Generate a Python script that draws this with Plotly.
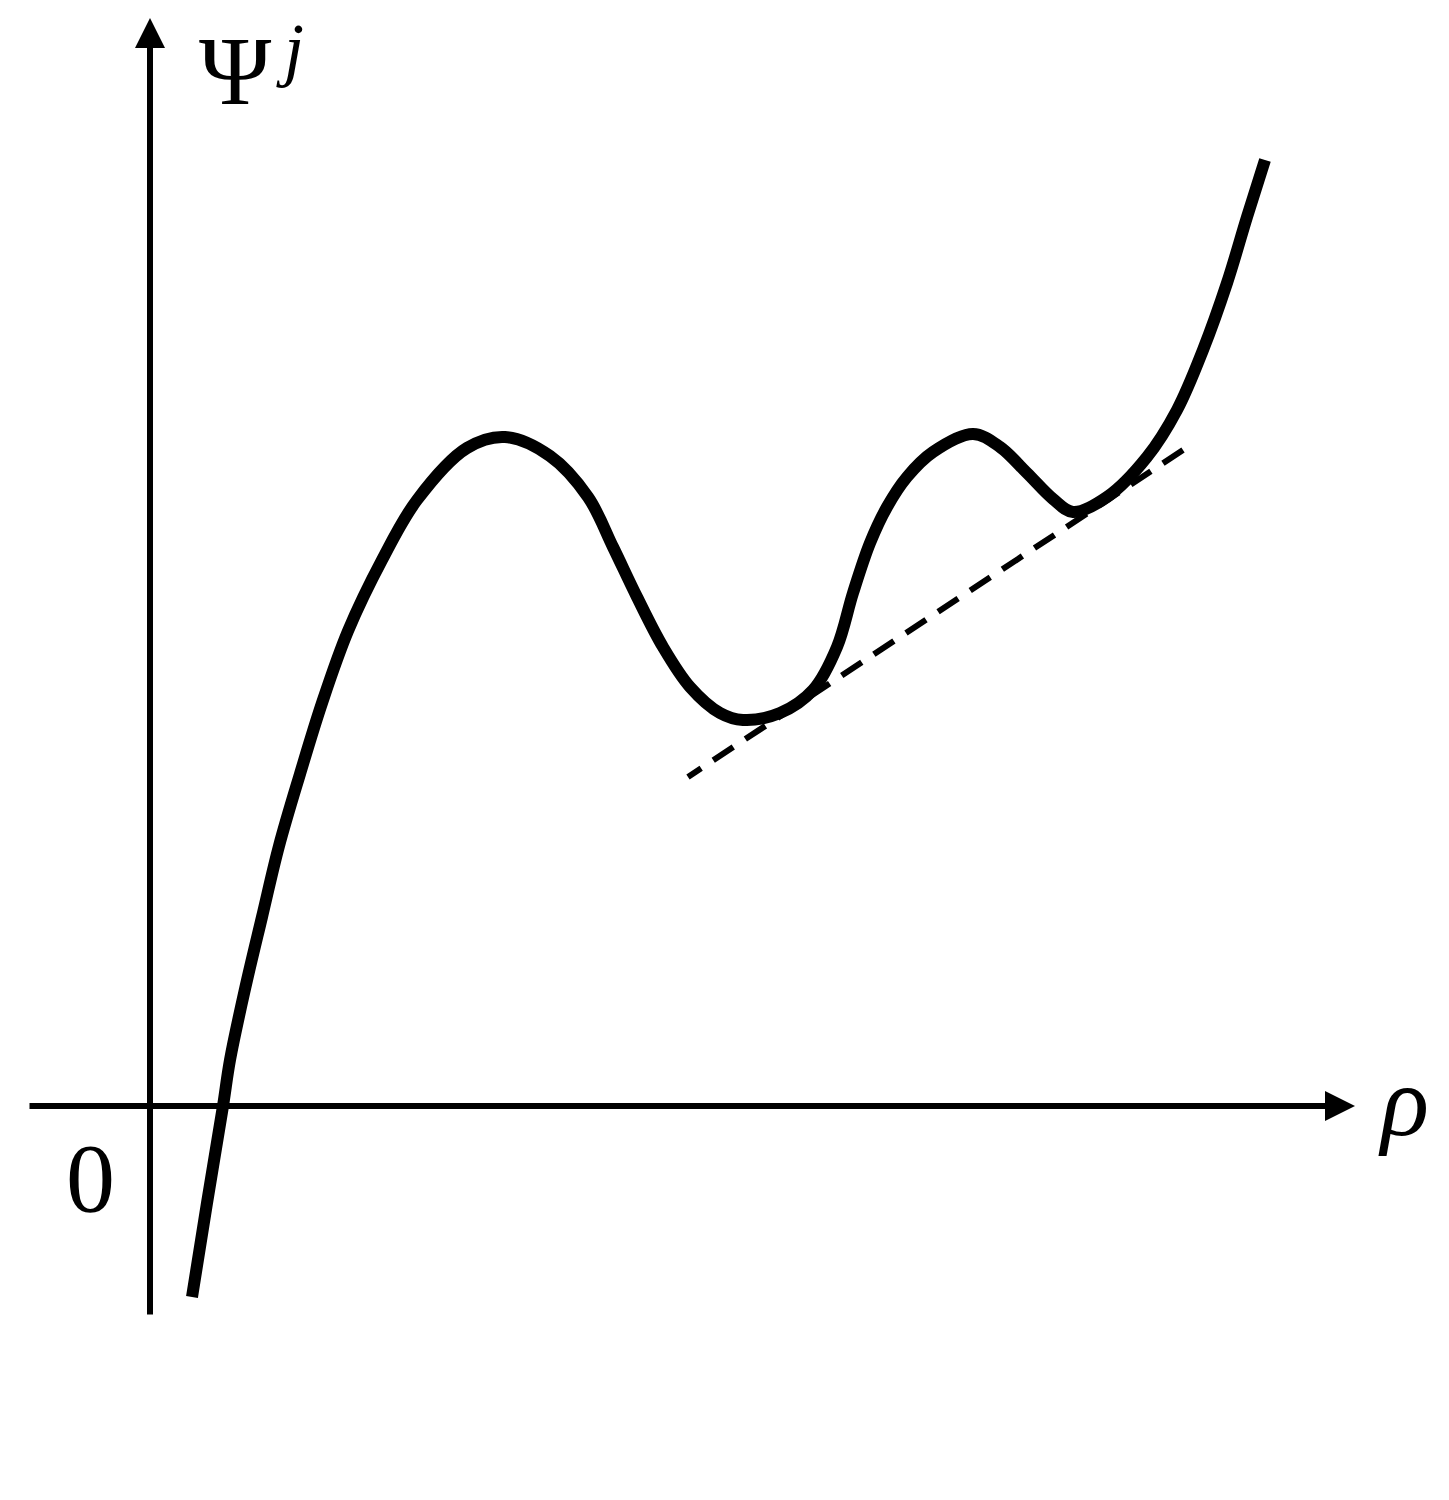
import plotly.graph_objects as go

# Curve Psi^j(rho) (arbitrary units)
rho = [0.42, 0.57, 0.73, 0.80, 0.95, 1.12, 1.29, 1.50, 1.72, 1.98, 2.32, 2.67,
       3.17, 3.55, 4.00, 4.38, 4.63, 4.87, 5.13, 5.40, 5.70, 5.93, 6.30, 6.63,
       6.87, 7.03, 7.20, 7.37, 7.57, 7.83, 8.23, 8.50, 8.77, 9.03, 9.23, 9.57,
       9.97, 10.27, 10.53, 10.77, 10.97, 11.15]
psi = [-1.91, -0.97, 0.00, 0.46, 1.17, 1.89, 2.60, 3.32, 4.03, 4.75, 5.46, 6.06,
       6.58, 6.69, 6.50, 6.09, 5.59, 5.09, 4.59, 4.19, 3.93, 3.86, 3.93, 4.16,
       4.59, 5.13, 5.63, 5.99, 6.29, 6.54, 6.72, 6.59, 6.33, 6.07, 5.94, 6.09,
       6.49, 6.96, 7.56, 8.23, 8.89, 9.46]

# Tangent (dashed) line endpoints
tan_rho = [10.33, 5.38]
tan_psi = [6.56, 3.29]

# Axis extents
x_axis = [-1.22, 12.05]
y_axis = [-2.10, 10.88]

fig = go.Figure()

fig.add_trace(go.Scatter(x=tan_rho, y=tan_psi, mode="lines",
                         line=dict(color="black", width=6, dash="24px,14.5px"),
                         hoverinfo="skip"))
fig.add_trace(go.Scatter(x=rho, y=psi, mode="lines",
                         line=dict(color="black", width=12, shape="spline", smoothing=1.0),
                         hoverinfo="skip"))

# Axes as arrows
fig.add_annotation(x=x_axis[1], y=0, ax=x_axis[0], ay=0, xref="x", yref="y",
                   axref="x", ayref="y", showarrow=True, arrowhead=2,
                   arrowwidth=6, arrowsize=1.0, arrowcolor="black", text="")
fig.add_annotation(x=0, y=y_axis[1], ax=0, ay=y_axis[0], xref="x", yref="y",
                   axref="x", ayref="y", showarrow=True, arrowhead=2,
                   arrowwidth=6, arrowsize=1.0, arrowcolor="black", text="")

serif = "Liberation Serif"
fig.add_annotation(x=0.85, y=10.35, xref="x", yref="y", text="Ψ", showarrow=False,
                   font=dict(family=serif, size=98, color="black"),
                   xanchor="center", yanchor="middle")
fig.add_annotation(x=1.40, y=1.0, xref="x", yref="paper", text="<i>j</i>", showarrow=False,
                   font=dict(family=serif, size=72, color="black"),
                   xanchor="center", yanchor="top", borderpad=0)
fig.add_annotation(x=-0.60, y=-0.72, xref="x", yref="y", text="0", showarrow=False,
                   font=dict(family=serif, size=98, color="black"),
                   xanchor="center", yanchor="middle")
fig.add_annotation(x=12.53, y=0.05, xref="x", yref="y", text="<i>ρ</i>", showarrow=False,
                   font=dict(family=serif, size=100, color="black"),
                   xanchor="center", yanchor="middle")

# Page body has an 8px margin, so ranges are shifted by 8px to align with the picture
fig.update_layout(
    width=1449, height=1500,
    margin=dict(l=0, r=0, t=0, b=0),
    paper_bgcolor="white", plot_bgcolor="white",
    showlegend=False,
    xaxis=dict(range=[-1.42, 13.07], visible=False, fixedrange=True),
    yaxis=dict(range=[-4.02, 10.98], visible=False, fixedrange=True),
)

fig.write_html("out.html")
